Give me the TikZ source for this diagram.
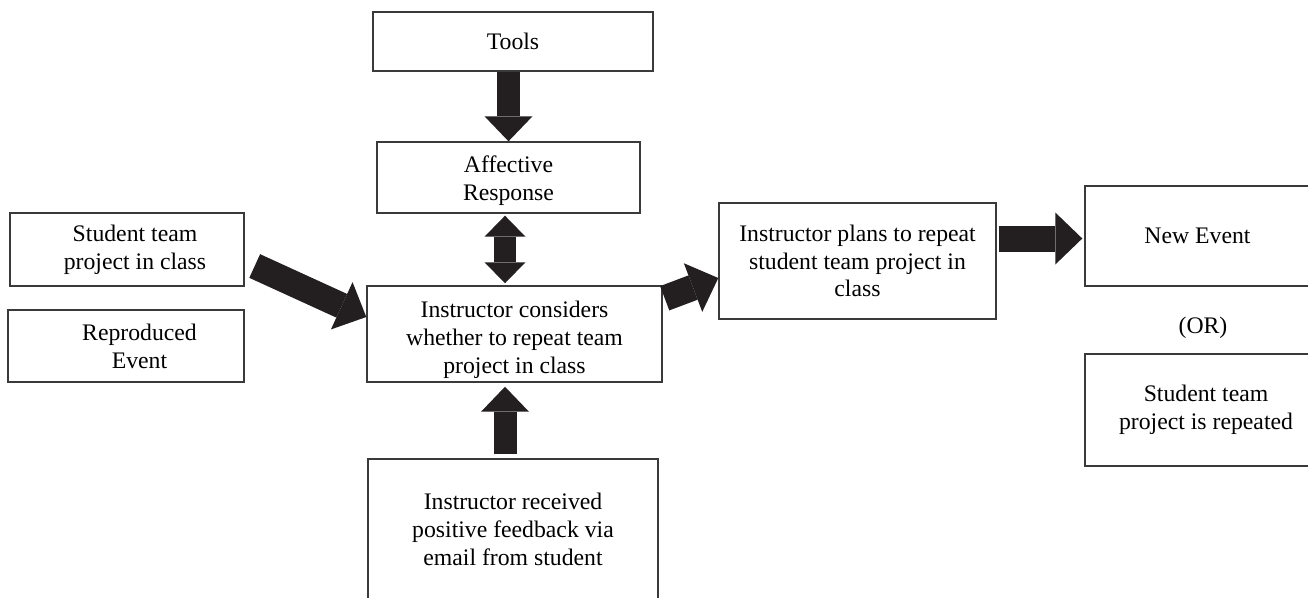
\documentclass[tikz,border=0pt]{standalone}
\usepackage{fontspec}
\setmainfont{Liberation Serif}
\usetikzlibrary{arrows.meta,positioning,calc}
\definecolor{arrowfill}{HTML}{231F20}
\definecolor{boxline}{HTML}{3A3A3A}

\begin{document}
\begin{tikzpicture}[
    every node/.style={font=\fontsize{13.5}{15.8}\selectfont},
    box/.style={draw=boxline, rectangle, line width=0.8pt, align=center, inner sep=2pt},
    bigarrow/.style={arrowfill, line width=0.52cm,
        -{Triangle[length=0.54cm, width=1.04cm, line width=0pt]}},
    vertarrow/.style={arrowfill, line width=0.46cm,
        -{Triangle[length=0.5cm, width=0.96cm, line width=0pt]}},
    twoarrow/.style={arrowfill, line width=0.44cm,
        {Triangle[length=0.42cm, width=0.82cm, line width=0pt]}-{Triangle[length=0.42cm, width=0.82cm, line width=0pt]}}
]
    \clip (0,0) rectangle (26.16,11.94);

    % 1. Middle column
    \node[box, minimum width=5.6cm, minimum height=1.18cm] (tools) at (10.26, 11.11) {Tools};
    \node[box, minimum width=5.26cm, minimum height=1.42cm] (affect) at (10.17, 8.39) {\rule{0pt}{1em}Affective\\Response};
    \node[box, minimum width=5.9cm, minimum height=1.88cm] (consider) at (10.29, 5.26) {\rule{0pt}{1.2em}Instructor considers\\whether to repeat team\\project in class};
    \node[box, minimum width=5.8cm, minimum height=2.82cm] (feedback) at (10.26, 1.35) {Instructor received\\positive feedback via\\email from student};

    % 2. Left column
    \node[box, minimum width=4.68cm, minimum height=1.46cm] (project) at (2.54, 6.95) {\hspace*{0.32cm}Student team\\\hspace*{0.32cm}project in class};
    \node[box, minimum width=4.72cm, minimum height=1.44cm] (reproduced) at (2.52, 5.02) {\hspace*{0.54cm}Reproduced\\\hspace*{0.54cm}Event};

    % 3. Plan and outcomes
    \node[box, minimum width=5.54cm, minimum height=2.32cm] (plans) at (17.15, 6.72) {Instructor plans to repeat\\student team project in\\class};
    \node[box, minimum width=4.5cm, minimum height=2.0cm] (newevent) at (23.95, 7.22) {New Event};
    \node (or) at (24.06, 5.38) {(OR)};
    \node[box, minimum width=4.84cm, minimum height=2.24cm] (repeated) at (24.12, 3.74) {Student team\\project is repeated};

    % 4. Connections
    \draw[vertarrow] (affect.north |- tools.south) -- (affect.north);
    \draw[twoarrow, shorten <=0.04cm, shorten >=0.04cm] ([xshift=-0.07cm]affect.south) -- ([xshift=-0.07cm]affect.south |- consider.north);
    \draw[vertarrow, shorten <=0.08cm, shorten >=0.08cm] ([xshift=-0.16cm]feedback.north) -- ([xshift=-0.16cm]feedback.north |- consider.south);
    \draw[bigarrow] ([shift={(0.2,-0.33)}]project.east) -- ([yshift=0.34cm]consider.west);
    \draw[bigarrow] ([shift={(0.04,-0.26)}]consider.north east) -- ([yshift=-0.34cm]plans.west);
    \draw[bigarrow, shorten <=0.04cm, shorten >=0.04cm] ([yshift=0.45cm]plans.east) -- ([yshift=0.45cm]plans.east -| newevent.west);

\end{tikzpicture}
\end{document}
